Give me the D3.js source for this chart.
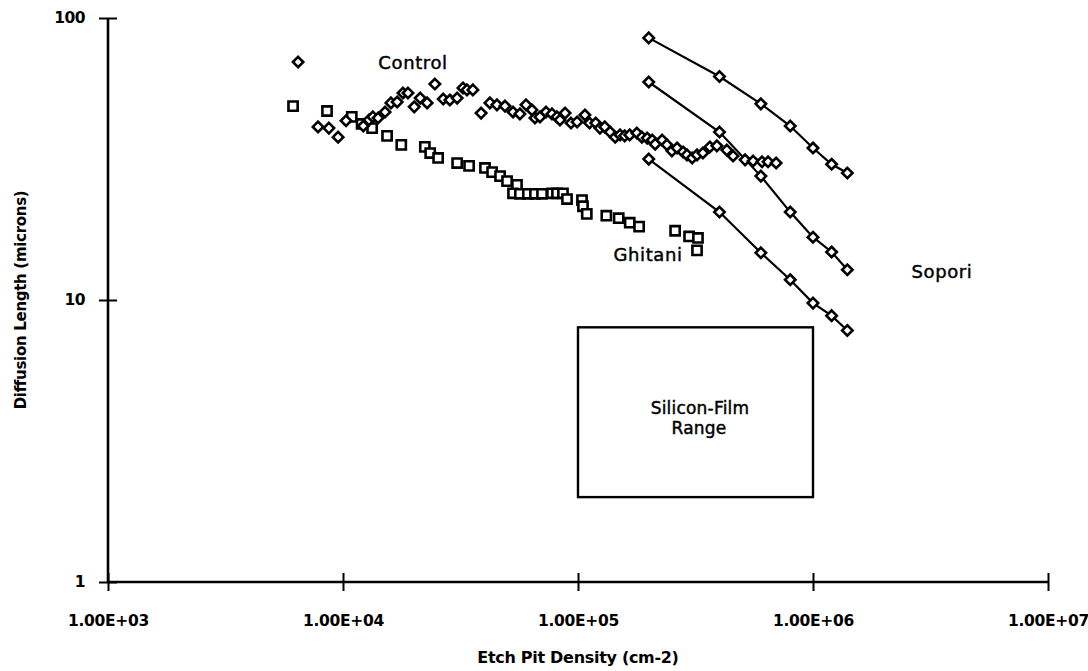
<!DOCTYPE html>
<html>
<head>
<meta charset="utf-8">
<title>Diffusion Length vs Etch Pit Density</title>
<script src="https://cdn.jsdelivr.net/npm/d3@7"></script>
<style>
  body { margin: 0; background: #fff; }
  svg text { font-family: "Century Gothic", "DejaVu Sans", sans-serif; fill: #000; }
  .lbl { font-size: 18px; letter-spacing: 0.6px; stroke: #000; stroke-width: 0.45px; }
</style>
</head>
<body>
<svg id="svg"></svg>
<script>
// ---- data ----
var xTicks = [1e3, 1e4, 1e5, 1e6, 1e7];
var xTickLabels = ["1.00E+03", "1.00E+04", "1.00E+05", "1.00E+06", "1.00E+07"];
var yTicks = [1, 10, 100];
var yTickLabels = ["1", "10", "100"];

// Control (diamonds): etch pit density / diffusion length
var controlX = [6.44e3, 7.83e3, 8.71e3, 9.53e3, 1.03e4, 1.22e4, 1.29e4, 1.34e4, 1.41e4, 1.51e4,
  1.60e4, 1.70e4, 1.80e4, 1.89e4, 2.01e4, 2.13e4, 2.28e4, 2.46e4, 2.67e4, 2.85e4,
  3.06e4, 3.24e4, 3.37e4, 3.57e4, 3.87e4, 4.22e4, 4.52e4, 4.89e4, 5.29e4, 5.66e4,
  6.01e4, 6.37e4, 6.56e4, 6.89e4, 7.31e4, 7.75e4, 8.14e4, 8.38e4, 8.81e4, 9.34e4,
  9.91e4, 1.07e5, 1.12e5, 1.19e5, 1.24e5, 1.30e5, 1.37e5, 1.44e5, 1.51e5, 1.58e5,
  1.66e5, 1.78e5, 1.87e5, 1.97e5, 2.07e5, 2.13e5, 2.28e5, 2.39e5, 2.51e5, 2.64e5,
  2.80e5, 2.91e5, 3.06e5, 3.21e5, 3.40e5, 3.64e5, 3.90e5, 4.30e5, 4.57e5, 5.14e5,
  5.56e5, 6.07e5, 6.44e5, 6.97e5];
var controlY = [69.8, 41.1, 40.7, 37.8, 43.2, 41.4, 43.5, 44.6, 44.2, 46.4,
  50.0, 50.4, 54.2, 54.2, 48.4, 52.0, 50.0, 58.3, 51.6, 51.2,
  52.0, 56.5, 55.6, 55.6, 46.0, 50.0, 49.2, 48.7, 46.4, 45.7,
  49.2, 47.2, 44.2, 44.6, 46.4, 45.7, 44.6, 43.5, 46.0, 42.4,
  42.8, 45.3, 42.4, 42.4, 40.7, 41.1, 39.4, 37.8, 38.5, 38.2,
  38.5, 39.1, 37.8, 37.5, 36.9, 35.7, 36.9, 35.5, 33.8, 34.6,
  33.5, 32.7, 31.9, 32.7, 33.2, 34.9, 35.2, 34.0, 32.4, 31.4,
  31.1, 30.9, 30.9, 30.6];

// Ghitani (squares)
var ghitaniX = [6.13e3, 8.55e3, 1.09e4, 1.20e4, 1.33e4, 1.54e4, 1.77e4, 2.23e4, 2.35e4, 2.54e4,
  3.06e4, 3.44e4, 4.02e4, 4.31e4, 4.66e4, 4.99e4, 5.50e4, 5.29e4, 5.66e4, 6.12e4,
  6.56e4, 7.03e4, 7.75e4, 8.14e4, 8.63e4, 8.98e4, 1.04e5, 1.05e5, 1.09e5, 1.32e5,
  1.49e5, 1.66e5, 1.82e5, 2.59e5, 2.97e5, 3.24e5, 3.21e5];
var ghitaniY = [48.7, 46.8, 44.6, 42.1, 40.7, 38.2, 35.5, 34.9, 33.2, 31.9,
  30.6, 29.9, 29.4, 28.4, 27.5, 26.4, 25.6, 23.9, 23.8, 23.8,
  23.8, 23.8, 23.9, 23.9, 23.9, 22.8, 22.6, 21.5, 20.2, 19.9,
  19.5, 18.8, 18.2, 17.6, 16.8, 16.6, 15.0];

// Sopori (three lines with diamonds)
var soporiX = [2e5, 4e5, 6e5, 8e5, 1e6, 1.2e6, 1.4e6];
var soporiHigh = [85, 62, 49.6, 41.4, 34.6, 30.3, 28.2];
var soporiMid = [59.3, 39.4, 27.5, 20.5, 16.7, 14.8, 12.8];
var soporiLow = [31.6, 20.5, 14.7, 11.8, 9.75, 8.8, 7.8];

// Silicon-Film range box
var boxX = [1e5, 1e6];
var boxY = [2, 8];

var width = 1088, height = 671;
var svg = d3.select("#svg").attr("width", width).attr("height", height);

var x = d3.scaleLog().domain([1e3, 1e7]).range([108, 1048]);
var y = d3.scaleLog().domain([1, 100]).range([582, 18]);

// axes
var axisX = d3.axisBottom(x).tickValues(xTicks)
  .tickFormat(function(d, i) { return xTickLabels[i]; })
  .tickSize(9).tickPadding(24);
var gx = svg.append("g").attr("transform", "translate(0," + y(1) + ")").call(axisX);
gx.select(".domain").attr("stroke", "#000").attr("stroke-width", 2.6)
  .attr("d", "M" + x(1e3) + ",0H" + x(1e7));
gx.selectAll(".tick line").attr("y1", -9).attr("stroke-width", 2);
gx.selectAll(".tick text").attr("font-size", 15.5).attr("font-weight", "bold")
  .attr("letter-spacing", "-0.3").style("font-family", "'DejaVu Sans', sans-serif");

var axisY = d3.axisLeft(y).tickValues(yTicks)
  .tickFormat(function(d, i) { return yTickLabels[i]; })
  .tickSize(9).tickPadding(14);
var gy = svg.append("g").attr("transform", "translate(" + x(1e3) + ",0)").call(axisY);
gy.select(".domain").attr("stroke", "#000").attr("stroke-width", 2.6)
  .attr("d", "M0," + y(1) + "V" + y(100));
gy.selectAll(".tick line").attr("x1", 9).attr("stroke-width", 2);
gy.selectAll(".tick text").attr("font-size", 15.5).attr("font-weight", "bold")
  .attr("letter-spacing", "-0.5").style("font-family", "'DejaVu Sans', sans-serif");

// axis titles
svg.append("text")
  .attr("x", x(1e5)).attr("y", 663)
  .attr("text-anchor", "middle").attr("font-size", 16).attr("font-weight", "bold")
  .attr("letter-spacing", "-0.3")
  .text("Etch Pit Density (cm-2)");
svg.append("text")
  .attr("transform", "translate(26," + y(10) + ")rotate(-90)")
  .attr("text-anchor", "middle").attr("font-size", 15).attr("font-weight", "bold")
  .attr("letter-spacing", "-0.3")
  .text("Diffusion Length (microns)");

// silicon-film box
svg.append("rect")
  .attr("x", x(boxX[0])).attr("y", y(boxY[1]))
  .attr("width", x(boxX[1]) - x(boxX[0])).attr("height", y(boxY[0]) - y(boxY[1]))
  .attr("fill", "none").attr("stroke", "#000").attr("stroke-width", 2.4);
svg.append("text").attr("class", "lbl").attr("x", 700).attr("y", 414).attr("text-anchor", "middle")
  .style("font-size", "17px").style("letter-spacing", "0.2px").text("Silicon-Film");
svg.append("text").attr("class", "lbl").attr("x", 699).attr("y", 434).attr("text-anchor", "middle")
  .style("font-size", "17px").style("letter-spacing", "0.2px").text("Range");

// markers
var diamond = "M0,-5.2L5.2,0L0,5.2L-5.2,0Z";
var square = "M-4.6,-4.6H4.6V4.6H-4.6Z";

function drawPoints(xs, ys, path) {
  svg.append("g").selectAll("path")
    .data(xs.map(function(d, i) { return [d, ys[i]]; }))
    .enter().append("path")
    .attr("d", path)
    .attr("transform", function(d) { return "translate(" + x(d[0]) + "," + y(d[1]) + ")"; })
    .attr("fill", "#fff").attr("stroke", "#000").attr("stroke-width", 2.6);
}

var line = d3.line().x(function(d) { return x(d[0]); }).y(function(d) { return y(d[1]); });
[soporiHigh, soporiMid, soporiLow].forEach(function(s) {
  svg.append("path")
    .datum(soporiX.map(function(d, i) { return [d, s[i]]; }))
    .attr("d", line).attr("fill", "none").attr("stroke", "#000").attr("stroke-width", 2.2);
});

drawPoints(ghitaniX, ghitaniY, square);
drawPoints(controlX, controlY, diamond);
[soporiHigh, soporiMid, soporiLow].forEach(function(s) { drawPoints(soporiX, s, diamond); });

// series labels
svg.append("text").attr("class", "lbl").attr("x", 413).attr("y", 69).attr("text-anchor", "middle").text("Control");
svg.append("text").attr("class", "lbl").attr("x", 648).attr("y", 261).attr("text-anchor", "middle").text("Ghitani");
svg.append("text").attr("class", "lbl").attr("x", 942).attr("y", 278).attr("text-anchor", "middle").text("Sopori");
</script>
</body>
</html>
